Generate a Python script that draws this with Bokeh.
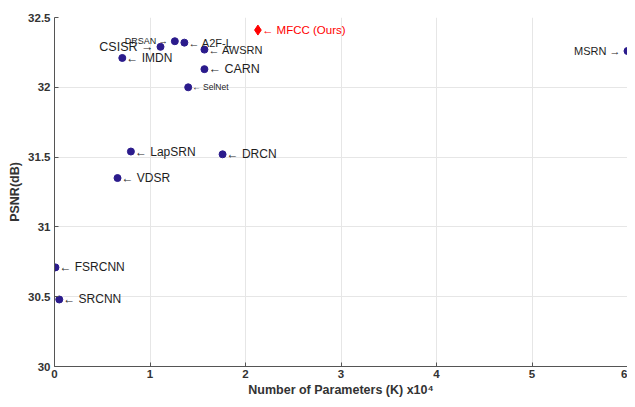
from bokeh.plotting import figure
from bokeh.models import ColumnDataSource, Range1d, FixedTicker
from bokeh.core.properties import value
from bokeh.embed import file_html
from bokeh.resources import INLINE

# ---- data ----
methods = ["DRSAN", "A2F-L", "CSISR", "AWSRN", "IMDN", "CARN", "SelNet",
           "MSRN", "LapSRN", "DRCN", "VDSR", "FSRCNN", "SRCNN"]
params_x1e4 = [1.26, 1.36, 1.11, 1.57, 0.71, 1.57, 1.40,
               6.00, 0.80, 1.76, 0.66, 0.01, 0.05]
psnr = [32.33, 32.32, 32.29, 32.27, 32.21, 32.13, 32.00,
        32.26, 31.54, 31.52, 31.35, 30.71, 30.48]
ours_name = ["MFCC (Ours)"]
ours_x = [2.13]
ours_y = [32.41]
x_ticks = [0, 1, 2, 3, 4, 5, 6]
y_ticks = [30, 30.5, 31, 31.5, 32, 32.5]

# ---- label styling (per method) ----
left_labels = {"DRSAN", "CSISR", "MSRN"}
label_size = {"DRSAN": "9px", "A2F-L": "11px", "CSISR": "12.5px", "AWSRN": "11px",
              "IMDN": "12px", "CARN": "12.5px", "SelNet": "8.5px", "MSRN": "11px",
              "LapSRN": "12px", "DRCN": "12px", "VDSR": "12px", "FSRCNN": "12px",
              "SRCNN": "12px"}

FONT = "Liberation Sans"

p = figure(width=627, height=399, output_backend="svg", toolbar_location=None,
           x_range=Range1d(0, 6.0), y_range=Range1d(30, 32.5),
           min_border_left=54, min_border_right=0, min_border_top=17, min_border_bottom=29)
p.outline_line_color = None
p.background_fill_color = "white"
p.border_fill_color = "white"

p.xaxis.ticker = FixedTicker(ticks=x_ticks)
p.yaxis.ticker = FixedTicker(ticks=y_ticks)
for ax in (p.xaxis, p.yaxis):
    ax.axis_line_color = "#555555"
    ax.major_tick_line_color = "#555555"
    ax.major_tick_in = 4
    ax.major_tick_out = 0
    ax.minor_tick_line_color = None
    ax.major_label_text_font = FONT
    ax.major_label_text_font_style = "bold"
    ax.major_label_text_font_size = "11.5px"
    ax.major_label_text_color = "#333333"
    ax.axis_label_text_font = FONT
    ax.axis_label_text_font_style = "bold"
    ax.axis_label_text_color = "#333333"
p.xaxis.axis_label = "Number of Parameters (K) x10\u2074"
p.yaxis.axis_label = "PSNR(dB)"
p.xaxis.axis_label_text_font_size = "12.5px"
p.yaxis.axis_label_text_font_size = "12.5px"
p.xaxis.major_label_standoff = 3
p.xaxis.axis_label_standoff = 2
p.yaxis.major_label_standoff = 4
p.yaxis.axis_label_standoff = 3

p.grid.grid_line_color = "#e6e6e6"
p.grid.grid_line_width = 1

# right-side and left-side labels
rx, ry, rt, rs = [], [], [], []
lx, ly, lt, ls = [], [], [], []
for m, xv, yv in zip(methods, params_x1e4, psnr):
    if m in left_labels:
        lx.append(xv); ly.append(yv); lt.append(m + " \u2192"); ls.append(label_size[m])
    else:
        rx.append(xv); ry.append(yv); rt.append("\u2190 " + m); rs.append(label_size[m])

src = ColumnDataSource(dict(x=params_x1e4, y=psnr))
p.scatter("x", "y", source=src, marker="circle", size=7,
          fill_color="#2b1b8c", line_color="#2b1b8c")

rsrc = ColumnDataSource(dict(x=rx, y=ry, t=rt, s=rs))
p.text("x", "y", text="t", source=rsrc, x_offset=4, text_font_size="s",
       text_font=value(FONT), text_color="#1e1e1e", text_baseline="middle", text_align="left")
lsrc = ColumnDataSource(dict(x=lx, y=ly, t=lt, s=ls))
p.text("x", "y", text="t", source=lsrc, x_offset=-7, text_font_size="s",
       text_font=value(FONT), text_color="#1e1e1e", text_baseline="middle", text_align="right")

osrc = ColumnDataSource(dict(x=ours_x, y=ours_y, t=["\u2190 " + n for n in ours_name]))
p.scatter("x", "y", source=osrc, marker="diamond", size=10,
          fill_color="#ff0000", line_color="#ff0000")
p.text("x", "y", text="t", source=osrc, x_offset=4, text_font_size="11.5px",
       text_font=value(FONT), text_color="#ff0000", text_baseline="middle", text_align="left")

open("out.html", "w").write(file_html(p, INLINE))
